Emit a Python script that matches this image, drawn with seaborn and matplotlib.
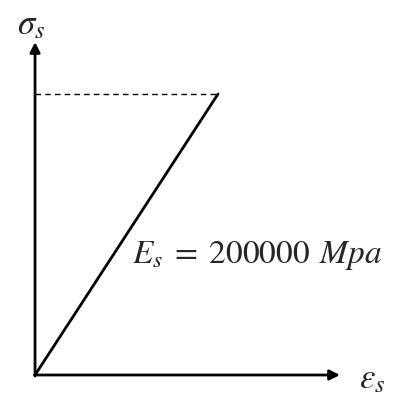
import matplotlib
matplotlib.use("Agg")
import matplotlib.pyplot as plt
import seaborn as sns
import pandas as pd

# Elastic branch of the steel stress-strain relation
E_s = 200000          # MPa
f_y = 400             # MPa, yield stress
eps_y = f_y / E_s     # yield strain

strain = [0.0, eps_y]
stress = [0.0, f_y]

yield_level_x = [0.0, eps_y]
yield_level_y = [f_y, f_y]

sns.set_style("white")
plt.rcParams["mathtext.fontset"] = "stix"

fig = plt.figure(figsize=(4.0, 3.94), dpi=100)
ax = fig.add_axes([0, 0, 1, 1])

df = pd.DataFrame({"strain": strain, "stress": stress})
sns.lineplot(data=df, x="strain", y="stress", ax=ax, color="black", lw=2.0)

df_y = pd.DataFrame({"strain": yield_level_x, "stress": yield_level_y})
sns.lineplot(data=df_y, x="strain", y="stress", ax=ax, color="black",
             lw=1.0, linestyle=(0, (4, 3)))

# axis limits chosen to leave room for arrows and symbols
ax.set_xlim(-0.000383, 0.003989)
ax.set_ylim(-27.05, 533.8)
ax.set_axis_off()

arrow = dict(arrowstyle="-|>", mutation_scale=15, lw=2.0, color="black",
             shrinkA=0, shrinkB=0)
x_end = 0.003333
y_end = 474.0
ax.annotate("", xy=(x_end, 0), xytext=(-0.000006, 0), arrowprops=arrow)
ax.annotate("", xy=(0, y_end), xytext=(0, -1.5), arrowprops=arrow)

ax.text(-0.00004, 500, r"$\sigma_s$", fontsize=25, ha="center", va="center")
ax.text(0.00368, -5, r"$\varepsilon_s$", fontsize=25, ha="center", va="center")
ax.text(0.00106, 159, r"$E_s\;=\;200000\;\,Mpa$", fontsize=24,
        ha="left", va="baseline")

fig.savefig("out.png", dpi=100)
